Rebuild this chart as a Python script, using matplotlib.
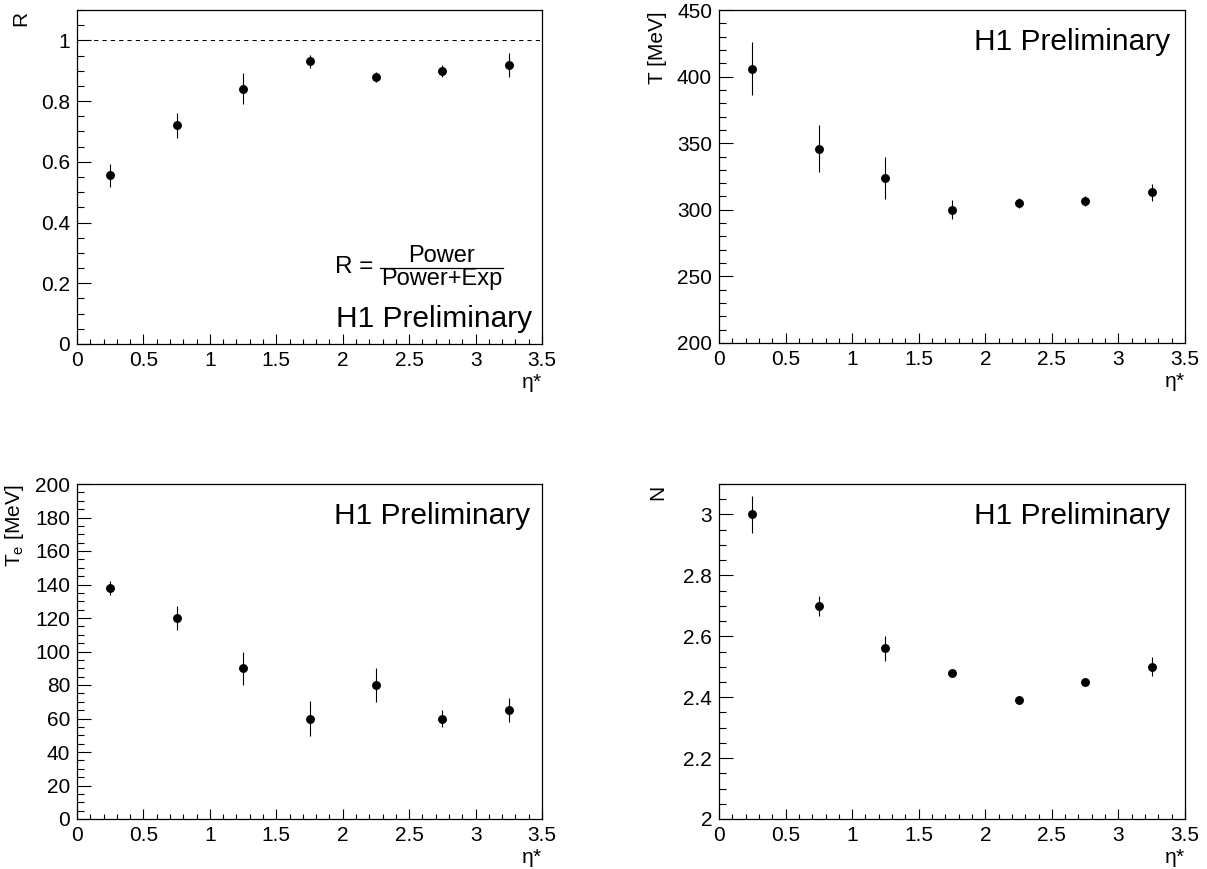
import matplotlib
matplotlib.use("Agg")
import matplotlib.pyplot as plt
from matplotlib.ticker import MultipleLocator, FuncFormatter
from matplotlib.lines import Line2D

plt.rcParams['font.family'] = ['Liberation Sans', 'DejaVu Sans']
plt.rcParams['mathtext.fontset'] = 'custom'
plt.rcParams['mathtext.rm'] = 'Liberation Sans'
plt.rcParams['mathtext.it'] = 'Liberation Sans'

# ---- data ----
eta = [0.25, 0.75, 1.25, 1.75, 2.25, 2.75, 3.25]

R_val = [0.555, 0.720, 0.840, 0.931, 0.880, 0.899, 0.919]
R_err = [0.037, 0.040, 0.051, 0.022, 0.016, 0.021, 0.041]

T_val = [406, 346, 324, 300, 305, 306.5, 313]
T_err = [20, 17.5, 16, 7, 3.5, 3.5, 6.5]

Te_val = [138, 120, 90, 60, 80, 60, 65]
Te_err = [4.3, 7, 10, 10.3, 10, 5.3, 7.2]

N_val = [3.00, 2.70, 2.56, 2.48, 2.39, 2.45, 2.50]
N_err = [0.061, 0.033, 0.042, 0.008, 0.005, 0.008, 0.031]

W, H = 1207, 869
fig = plt.figure(figsize=(W / 100, H / 100), dpi=100)


def add_ax(x0, y0, x1, y1):
    return fig.add_axes([x0 / W, 1 - y1 / H, (x1 - x0) / W, (y1 - y0) / H])


fmt = FuncFormatter(lambda v, p: ('%g' % round(v, 6)))

panels = [
    dict(box=(77, 10, 542, 344), y=R_val, e=R_err, ylim=(0, 1.1), major=0.2, minor=0.05,
         ylabel='R', ylx=-0.122, h1x=0.978, h1y=0.051),
    dict(box=(719, 10, 1185, 343), y=T_val, e=T_err, ylim=(200, 450), major=50, minor=10,
         ylabel='T [MeV]', ylx=-0.131, h1x=0.968, h1y=0.88),
    dict(box=(77, 484, 542, 819), y=Te_val, e=Te_err, ylim=(0, 200), major=20, minor=5,
         ylabel=r'T$_{\mathregular{e}}$ [MeV]', ylx=-0.135, h1x=0.975, h1y=0.88),
    dict(box=(719, 484, 1185, 819), y=N_val, e=N_err, ylim=(2, 3.1), major=0.2, minor=0.05,
         ylabel='N', ylx=-0.131, h1x=0.968, h1y=0.88),
]

axes = []
for p in panels:
    ax = add_ax(*p['box'])
    axes.append(ax)
    ax.errorbar(eta, p['y'], yerr=p['e'], fmt='o', color='black', ms=5.4,
                elinewidth=0.8, capsize=0)
    ax.set_xlim(0, 3.5)
    ax.set_ylim(*p['ylim'])
    ax.xaxis.set_major_locator(MultipleLocator(0.5))
    ax.xaxis.set_minor_locator(MultipleLocator(0.1))
    ax.yaxis.set_major_locator(MultipleLocator(p['major']))
    ax.yaxis.set_minor_locator(MultipleLocator(p['minor']))
    ax.xaxis.set_major_formatter(fmt)
    ax.yaxis.set_major_formatter(fmt)
    ax.tick_params(which='both', direction='in', top=False, right=False,
                   width=0.8, labelsize=15)
    ax.tick_params(axis='x', which='major', length=7.2, pad=5)
    ax.tick_params(axis='x', which='minor', length=3.6)
    ax.tick_params(axis='y', which='major', length=10, pad=5)
    ax.tick_params(axis='y', which='minor', length=5)
    for s in ax.spines.values():
        s.set_linewidth(0.9)
    ax.text(p['ylx'], 0.997, p['ylabel'], transform=ax.transAxes, rotation=90,
            rotation_mode='anchor', ha='right', va='center', fontsize=15)
    ax.text(0.978, -0.117, r'$\eta$*', transform=ax.transAxes, ha='center',
            va='center', fontsize=15)
    ax.text(p['h1x'], p['h1y'], 'H1 Preliminary', transform=ax.transAxes,
            ha='right', va='baseline', fontsize=21.5)

# reference line at R = 1
axR = axes[0]
axR.axhline(1.0, color='black', lw=0.75, ls=(0, (4, 4)))

# formula R = Power / (Power+Exp)
axR.text(0.637, 0.213, 'R =', transform=axR.transAxes, ha='right', va='baseline', fontsize=17.5)
axR.text(0.784, 0.246, 'Power', transform=axR.transAxes, ha='center', va='baseline', fontsize=17)
axR.text(0.784, 0.177, 'Power+Exp', transform=axR.transAxes, ha='center', va='baseline', fontsize=17)
axR.add_line(Line2D([0.652, 0.916], [0.228, 0.228], transform=axR.transAxes,
                    color='black', lw=0.9))

fig.savefig('out.png', dpi=100)
